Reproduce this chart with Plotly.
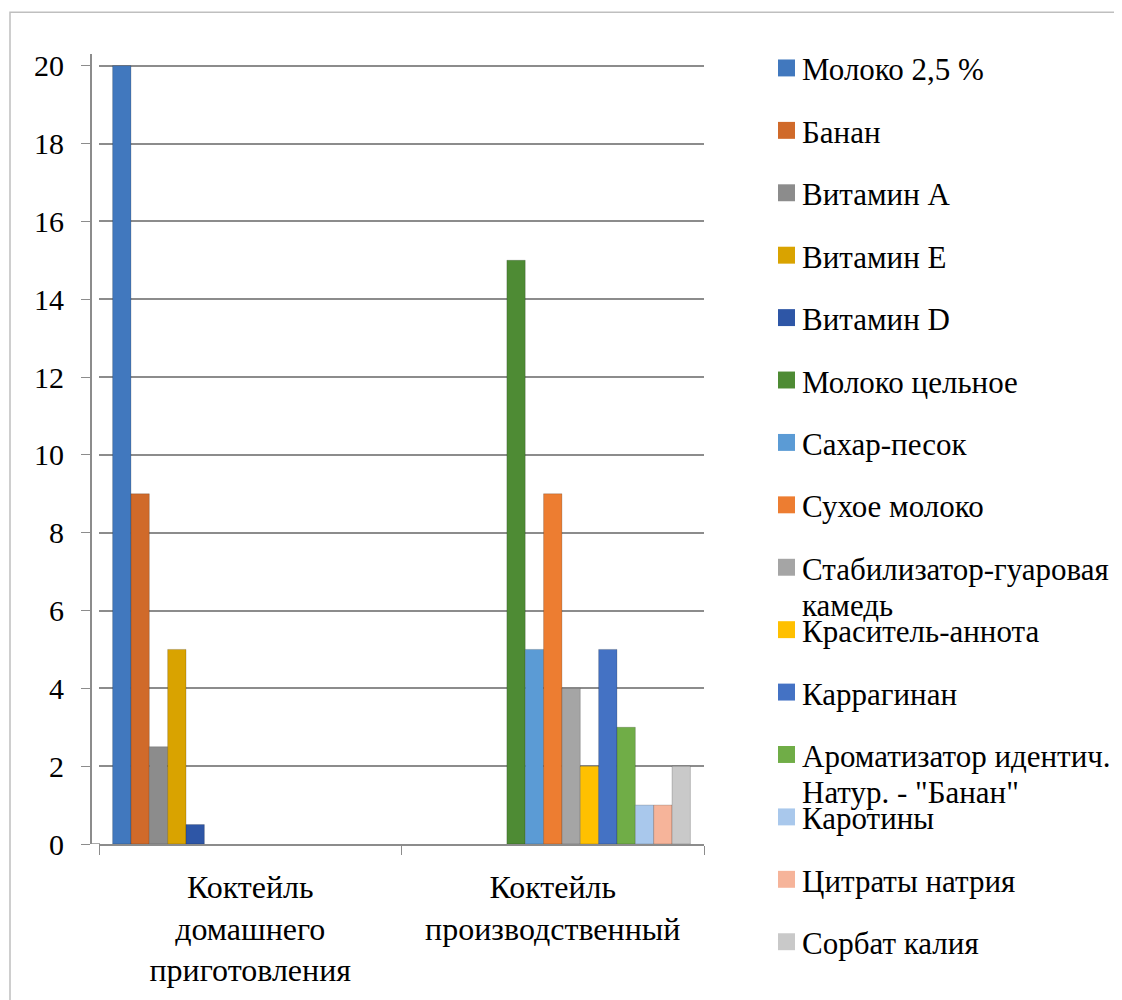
import plotly.graph_objects as go

categories = ["Коктейль<br>домашнего<br>приготовления", "Коктейль<br>производственный"]

series_names = [
    "Молоко 2,5 %", "Банан", "Витамин А", "Витамин Е", "Витамин D",
    "Молоко цельное", "Сахар-песок", "Сухое молоко",
    "Стабилизатор-гуаровая<br>камедь", "Краситель-аннота", "Каррагинан",
    "Ароматизатор идентич.<br>Натур. - \"Банан\"", "Каротины",
    "Цитраты натрия", "Сорбат калия",
]

home_values = [20, 9, 2.5, 5, 0.5, None, None, None, None, None, None, None, None, None, None]
factory_values = [None, None, None, None, None, 15, 5, 9, 4, 2, 5, 3, 1, 1, 2]

colors = [
    "#4178BE", "#D06A2A", "#8C8C8C", "#D9A300", "#2E56A6",
    "#4E8B34", "#5B9BD5", "#ED7D31", "#A5A5A5", "#FFC000",
    "#4472C4", "#70AD47", "#A9C8EC", "#F6B49A", "#C9C9C9",
]

y_ticks = list(range(0, 21, 2))

FONT = "Liberation Serif"
# the page body adds an 8px margin, so the figure is 8px smaller
W, H = 1114, 992
L, R, T, B = 83, 418, 46, 153
pw, ph = W - L - R, H - T - B


def px_x(x):
    return (x - L) / pw


def px_y(y):
    return (H - B - y) / ph


fig = go.Figure()
for name, color, v1, v2 in zip(series_names, colors, home_values, factory_values):
    fig.add_trace(go.Bar(
        x=categories, y=[v1, v2], name=name,
        marker=dict(color=color, line=dict(color="rgba(0,0,0,0.18)", width=1)),
        showlegend=False,
    ))

# hand-made legend so that every entry keeps the same pitch
shapes = []
annotations = []
for i, (name, color) in enumerate(zip(series_names, colors)):
    cy = 60 + 62.65 * i
    shapes.append(dict(
        type="rect", xref="paper", yref="paper",
        x0=px_x(770), x1=px_x(787), y0=px_y(cy + 8.5), y1=px_y(cy - 8.5),
        fillcolor=color, line=dict(width=0),
    ))
    for k, line in enumerate(name.split("<br>")):
        annotations.append(dict(
            text=line, xref="paper", yref="paper",
            x=px_x(792), y=px_y(cy + 2 + 36 * k), xanchor="left", yanchor="middle",
            align="left", showarrow=False,
            font=dict(family=FONT, size=31, color="black"),
        ))

# floor line joining the value axis
shapes.append(dict(
    type="line", xref="paper", yref="y", x0=0, x1=px_x(92), y0=0, y1=0,
    line=dict(color="#8C8C8C", width=1.5),
))

# outer chart border
shapes.append(dict(
    type="rect", xref="paper", yref="paper",
    x0=px_x(2), x1=px_x(W + 20), y0=px_y(H + 20), y1=px_y(4),
    line=dict(color="#BFBFBF", width=1.5), fillcolor="rgba(0,0,0,0)", layer="below",
))

fig.update_layout(
    width=W, height=H,
    margin=dict(l=L, r=R, t=T, b=B),
    paper_bgcolor="white", plot_bgcolor="white",
    barmode="group", bargap=0.09, bargroupgap=0,
    font=dict(family=FONT, size=32, color="black"),
    shapes=shapes, annotations=annotations,
    xaxis=dict(
        domain=[px_x(91), 1],
        showline=True, linecolor="#8C8C8C", linewidth=1.5,
        ticks="outside", tickson="boundaries", ticklen=9, tickcolor="#8C8C8C",
        tickfont=dict(family=FONT, size=32, color="black"),
        ticklabelstandoff=14,
        showgrid=False,
    ),
    yaxis=dict(
        anchor="free", position=0,
        range=[0, 20.3], tickvals=y_ticks,
        showline=True, linecolor="#8C8C8C", linewidth=2,
        ticks="outside", ticklen=9, tickcolor="#8C8C8C",
        tickfont=dict(family=FONT, size=30, color="black"),
        ticklabelstandoff=11,
        showgrid=True, gridcolor="#8C8C8C", gridwidth=1.5,
        zeroline=False,
    ),
)

fig.write_html("out.html")
